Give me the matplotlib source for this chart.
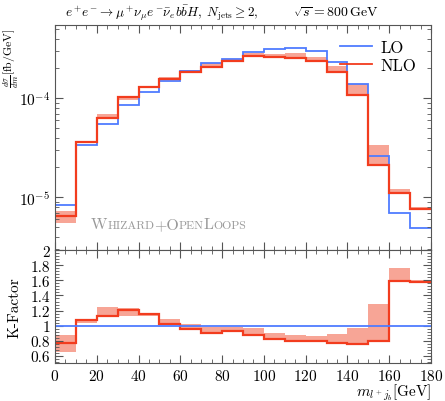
import numpy as np
import matplotlib
matplotlib.use("Agg")
import matplotlib.pyplot as plt
from matplotlib.ticker import MultipleLocator, LogLocator, NullFormatter
from matplotlib.offsetbox import TextArea, HPacker, AnchoredOffsetbox

plt.rcParams['font.family'] = 'cmr10'
plt.rcParams['mathtext.fontset'] = 'cm'
plt.rcParams['axes.formatter.use_mathtext'] = True
plt.rcParams['axes.unicode_minus'] = False

# bin edges of m_{l+ j_b} [GeV]
edges = np.arange(0, 190, 10)

# dsigma/dm [fb/GeV]
lo = [8.4e-6, 3.4e-5, 5.46e-5, 8.56e-5, 1.15e-4, 1.5e-4, 1.87e-4, 2.29e-4, 2.5e-4,
      2.94e-4, 3.17e-4, 3.2e-4, 2.99e-4, 2.33e-4, 1.41e-4, 2.63e-5, 6.9e-6, 4.9e-6]
nlo = [6.4e-6, 3.6e-5, 6.3e-5, 1.02e-4, 1.3e-4, 1.56e-4, 1.83e-4, 2.06e-4, 2.4e-4,
       2.65e-4, 2.63e-4, 2.54e-4, 2.37e-4, 1.85e-4, 1.09e-4, 2.13e-5, 1.1e-5, 7.7e-6]
nlo_lo = [5.5e-6, 3.5e-5, 6.3e-5, 9.5e-5, 1.27e-4, 1.56e-4, 1.83e-4, 2.06e-4, 2.4e-4,
          2.65e-4, 2.63e-4, 2.54e-4, 2.37e-4, 1.85e-4, 1.09e-4, 2.13e-5, 1.1e-5, 7.6e-6]
nlo_hi = [7.3e-6, 3.6e-5, 6.9e-5, 1.05e-4, 1.32e-4, 1.64e-4, 1.95e-4, 2.28e-4, 2.52e-4,
          2.86e-4, 2.83e-4, 2.86e-4, 2.6e-4, 2.14e-4, 1.41e-4, 3.4e-5, 1.2e-5, 7.9e-6]

# K-factor
k = [0.765, 1.067, 1.133, 1.21, 1.152, 1.022, 0.956, 0.9, 0.933,
     0.88, 0.823, 0.79, 0.787, 0.77, 0.756, 0.8, 1.59, 1.578]
k_lo = [0.645, 1.03, 1.133, 1.13, 1.13, 1.022, 0.956, 0.9, 0.93,
        0.88, 0.82, 0.79, 0.787, 0.77, 0.756, 0.8, 1.59, 1.56]
k_hi = [0.867, 1.067, 1.245, 1.23, 1.17, 1.09, 1.02, 0.98, 0.98,
        0.97, 0.90, 0.88, 0.86, 0.89, 0.97, 1.29, 1.765, 1.6]

blue = '#4f7cff'
red = '#f23c1e'
band = '#f26a50'

fig = plt.figure(figsize=(4.45, 4.02), dpi=100)
ax = fig.add_axes([0.1236, 0.3744, 0.8449, 0.5609])
axr = fig.add_axes([0.1236, 0.0945, 0.8449, 0.2799], sharex=ax)

# main panel
ax.stairs(nlo_hi, edges, baseline=nlo_lo, fill=True, color=band, alpha=0.6, lw=0)
ax.stairs(lo, edges, baseline=None, color=blue, lw=1.3, label='LO')
ax.stairs(nlo, edges, baseline=None, color=red, lw=1.6, label='NLO')
ax.set_yscale('log')
ax.set_ylim(2.9e-6, 5.5e-4)
ax.set_xlim(0, 180)
ax.yaxis.set_major_locator(LogLocator(base=10, numticks=10))
ax.yaxis.set_minor_locator(LogLocator(base=10, subs=np.arange(2, 10), numticks=20))
ax.yaxis.set_minor_formatter(NullFormatter())
ax.tick_params(labelbottom=False)
ax.set_ylabel(r'$\frac{d\sigma}{dm}$[fb/GeV]', fontsize=8.5, loc='top')
ax.yaxis.set_label_coords(-0.09, 0.99)

leg = ax.legend(loc='upper right', frameon=False, fontsize=12, handlelength=1.9,
                handletextpad=0.5, labelspacing=0.15, borderaxespad=0.5)
for line in leg.get_lines():
    line.set_linewidth(1.3)

# small caps label
grey = '#999999'
parts = [('W', 11.5), ('HIZARD', 8.5), ('+O', 11.5), ('PEN', 8.5), ('L', 11.5), ('OOPS', 8.5)]
boxes = [TextArea(t, textprops=dict(color=grey, fontsize=s)) for t, s in parts]
pack = HPacker(children=boxes, align='baseline', pad=0, sep=0)
anch = AnchoredOffsetbox(loc='lower left', child=pack, frameon=False,
                         bbox_to_anchor=(0.095, 0.085), bbox_transform=ax.transAxes,
                         borderpad=0, pad=0)
ax.add_artist(anch)

fig.text(65 / 445, 0.967,
         r'$e^+\!e^-\!\to\mu^+\!\nu_\mu e^-\!\bar{\nu}_e b\bar{b}H,\;N_\mathrm{jets}\geq 2,$',
         ha='left', va='center', fontsize=9.5)
fig.text(293 / 445, 0.967, r'$\sqrt{s}=800\,\mathrm{GeV}$',
         ha='left', va='center', fontsize=10)

# ratio panel
axr.stairs(k_hi, edges, baseline=k_lo, fill=True, color=band, alpha=0.6, lw=0)
axr.axhline(1.0, color=blue, lw=1.3)
axr.stairs(k, edges, baseline=None, color=red, lw=1.6)
axr.set_ylim(0.5, 2.0)
axr.set_xlim(0, 180)
axr.set_yticks([0.6, 0.8, 1.0, 1.2, 1.4, 1.6, 1.8, 2.0])
axr.set_yticklabels(['0.6', '0.8', '1', '1.2', '1.4', '1.6', '1.8', '2'])
axr.yaxis.set_minor_locator(MultipleLocator(0.04))
axr.xaxis.set_major_locator(MultipleLocator(20))
axr.xaxis.set_minor_locator(MultipleLocator(5))
axr.set_ylabel('K-Factor', fontsize=11)
axr.yaxis.set_label_coords(-0.09, 0.5)
axr.set_xlabel(r'$m_{l^+j_b}$[GeV]', fontsize=11, loc='right', labelpad=-1)

for a in (ax, axr):
    a.tick_params(which='both', direction='in', top=True, right=True, labelsize=11,
                  color='#555555')
    a.tick_params(which='major', length=6)
    a.tick_params(which='minor', length=3)
    for sp in a.spines.values():
        sp.set_color('#555555')
        sp.set_linewidth(0.8)

fig.savefig('out.png', dpi=100)
